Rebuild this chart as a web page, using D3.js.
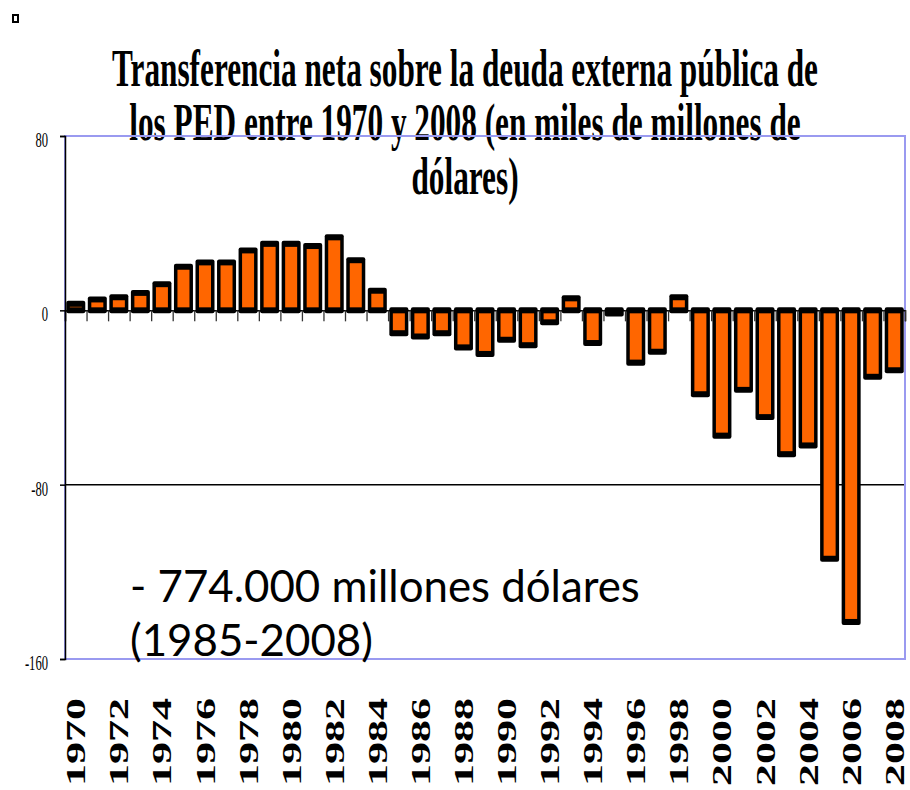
<!DOCTYPE html>
<html lang="es">
<head>
  <meta charset="utf-8" />
  <title>Transferencia neta deuda externa PED</title>
  <style>
    body { margin: 0; padding: 0; background: #fff; }
    svg { display: block; }
  </style>
  <script src="https://d3js.org/d3.v7.min.js"></script>
</head>
<body>
  <svg width="910" height="790"></svg>
  <script>
    // data (miles de millones de dólares)
    const years = [1970, 1971, 1972, 1973, 1974, 1975, 1976, 1977, 1978, 1979,
                   1980, 1981, 1982, 1983, 1984, 1985, 1986, 1987, 1988, 1989,
                   1990, 1991, 1992, 1993, 1994, 1995, 1996, 1997, 1998, 1999,
                   2000, 2001, 2002, 2003, 2004, 2005, 2006, 2007, 2008];
    const values = [3, 5, 6, 8, 12, 20, 22, 22, 27.5, 30.5,
                    30.5, 29.5, 33.5, 23, 9, -10.5, -12, -10.5, -17, -20,
                    -13.5, -16, -5.5, 5.5, -15, -1.5, -24, -19, 6, -38.5,
                    -57.5, -36.5, -49, -66, -62, -114, -143, -30.5, -27.5];
    const yTicks = [-160, -80, 0, 80];
    const yearLabels = [1970, 1972, 1974, 1976, 1978, 1980, 1982, 1984, 1986, 1988,
                        1990, 1992, 1994, 1996, 1998, 2000, 2002, 2004, 2006, 2008];
    const titleLines = [
      "Transferencia neta sobre la deuda externa pública de",
      "los PED entre 1970 y 2008 (en miles de millones de",
      "dólares)"
    ];
    const noteLines = ["- 774.000 millones dólares", "(1985-2008)"];

    const data = years.map((y, i) => ({ year: y, value: values[i] }));

    const svg = d3.select("svg");
    const plotL = 65, plotR = 905, plotT = 136, plotB = 659;
    const sx = 0.575; // the serif text in the picture is squeezed sideways

    const x = d3.scaleBand()
      .domain(years)
      .range([plotL, plotR])
      .paddingInner(0.28)
      .paddingOuter(0.14);

    const y = d3.scaleLinear()
      .domain([-160, 80])
      .range([plotB, plotT]);

    // little square top-left
    svg.append("rect")
      .attr("x", 13).attr("y", 15)
      .attr("width", 5).attr("height", 7)
      .attr("fill", "#fff")
      .attr("stroke", "#000")
      .attr("stroke-width", 2);

    // title
    const title = svg.append("g")
      .attr("font-family", "'Liberation Serif', 'Times New Roman', serif")
      .attr("font-weight", "bold")
      .attr("font-size", 53)
      .attr("fill", "#000");

    title.selectAll("text")
      .data(titleLines)
      .join("text")
      .attr("text-anchor", "middle")
      .attr("transform", (d, i) => `translate(465,${86 + i * 54}) scale(0.59,1)`)
      .text(d => d);

    // gridline at -80
    svg.append("line")
      .attr("x1", plotL).attr("x2", plotR)
      .attr("y1", y(-80)).attr("y2", y(-80))
      .attr("stroke", "#000")
      .attr("stroke-width", 1.5);

    // plot area border
    svg.append("rect")
      .attr("x", plotL).attr("y", plotT)
      .attr("width", plotR - plotL).attr("height", plotB - plotT)
      .attr("fill", "none")
      .attr("stroke", "#9a9af0")
      .attr("stroke-width", 2);

    // x axis at zero, ticks between categories
    const xi = d3.scaleLinear().domain([0, years.length]).range([plotL, plotR]);
    const xAxis = svg.append("g")
      .attr("transform", `translate(0,${y(0)})`)
      .call(d3.axisBottom(xi)
        .tickValues(d3.range(0, years.length + 1))
        .tickSize(11)
        .tickFormat(""));
    xAxis.select(".domain").attr("stroke", "#000").attr("stroke-width", 1.5);
    xAxis.selectAll(".tick line").attr("stroke", "#333").attr("stroke-width", 1.3);

    // y axis
    const yAxis = svg.append("g")
      .attr("transform", `translate(${plotL},0)`)
      .call(d3.axisLeft(y)
        .tickValues(yTicks)
        .tickSize(5)
        .tickFormat(d => String(d)));
    yAxis.select(".domain").attr("stroke", "#000").attr("stroke-width", 1.5);
    yAxis.selectAll(".tick line").attr("stroke", "#000").attr("stroke-width", 1.5);
    yAxis.selectAll(".tick text")
      .attr("x", 0)
      .attr("dy", "0.35em")
      .attr("transform", `translate(-17,3) scale(0.6,1)`)
      .attr("font-family", "'Liberation Serif', 'Times New Roman', serif")
      .attr("font-size", 21)
      .attr("fill", "#000");

    // bars: thick black outline, thinner sideways because of the squeeze
    const sv = 3, sh = 1.75;
    const bars = svg.append("g");

    bars.selectAll("rect.outer")
      .data(data)
      .join("rect")
      .attr("class", "outer")
      .attr("x", d => x(d.year) - sh)
      .attr("width", x.bandwidth() + 2 * sh)
      .attr("y", d => Math.min(y(d.value), y(0)) - sv)
      .attr("height", d => Math.abs(y(d.value) - y(0)) + 2 * sv)
      .attr("rx", 2)
      .attr("fill", "#000");

    bars.selectAll("rect.inner")
      .data(data.filter(d => Math.abs(y(d.value) - y(0)) > 2 * sv))
      .join("rect")
      .attr("class", "inner")
      .attr("x", d => x(d.year) + sh)
      .attr("width", x.bandwidth() - 2 * sh)
      .attr("y", d => Math.min(y(d.value), y(0)) + sv)
      .attr("height", d => Math.abs(y(d.value) - y(0)) - 2 * sv)
      .attr("fill", "#ff6600");

    // year labels, rotated
    svg.append("g")
      .attr("font-family", "'Liberation Serif', 'Times New Roman', serif")
      .attr("font-weight", "bold")
      .attr("font-size", 44)
      .attr("fill", "#000")
      .selectAll("text")
      .data(yearLabels)
      .join("text")
      .attr("text-anchor", "end")
      .attr("dy", "0.35em")
      .attr("transform", d => `translate(${x(d) + x.bandwidth() / 2},698) scale(0.62,1) rotate(-90)`)
      .text(d => d);

    // annotation
    const note = svg.append("g")
      .attr("font-family", "Lato, 'Open Sans', sans-serif")
      .attr("fill", "#000");
    const noteText = note.selectAll("text")
      .data(noteLines)
      .join("text")
      .attr("x", 130)
      .attr("y", (d, i) => 602 + i * 54)
      .attr("font-size", 40)
      .text(d => d);
    const w0 = noteText.node().getComputedTextLength();
    noteText.attr("font-size", 40 * 510 / w0);
  </script>
</body>
</html>
